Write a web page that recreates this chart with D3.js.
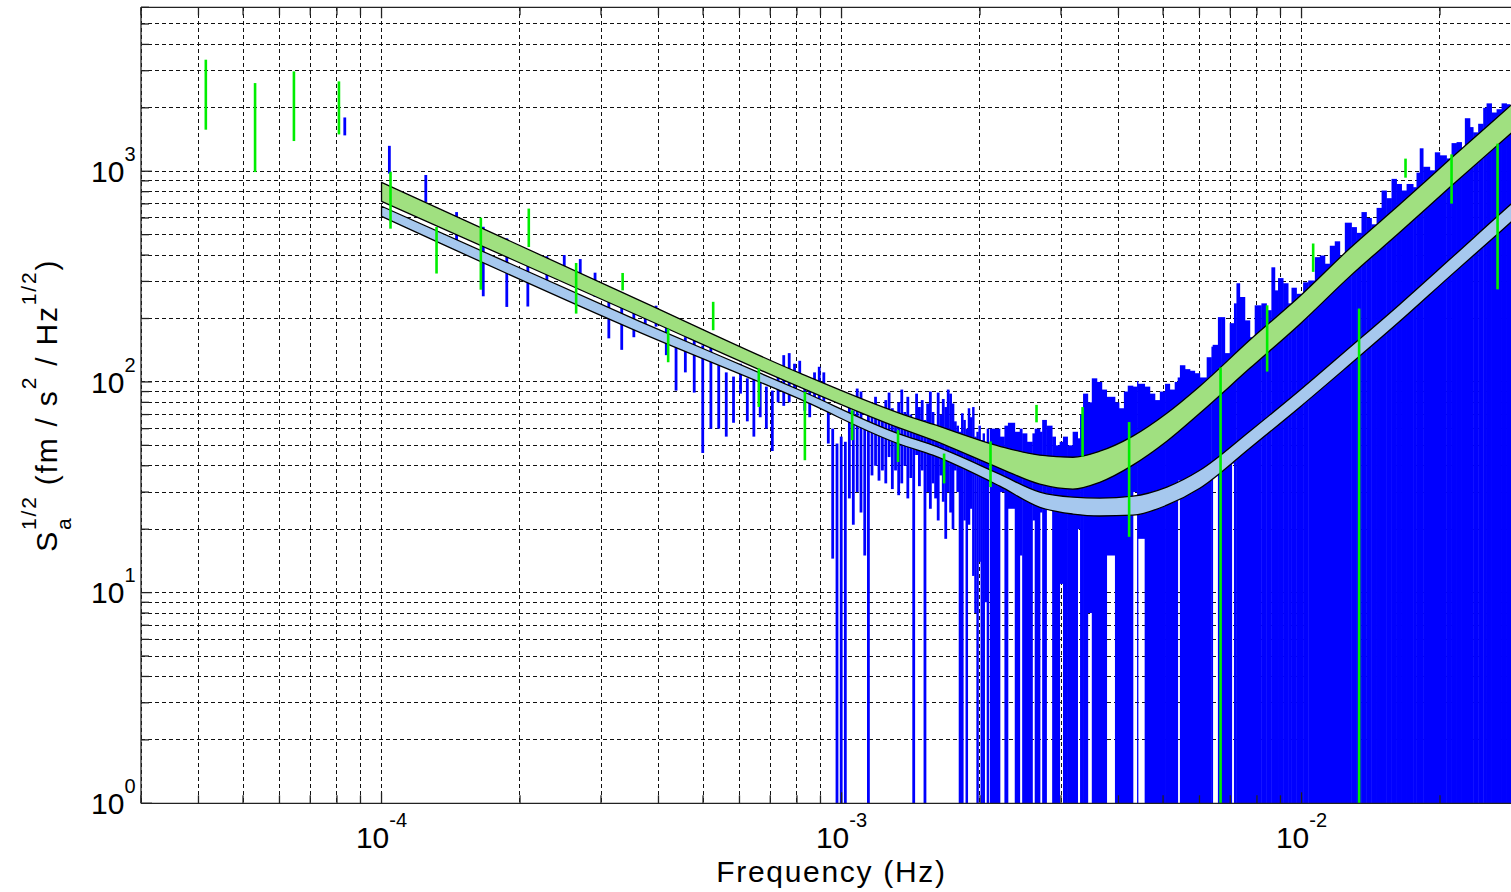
<!DOCTYPE html>
<html><head><meta charset="utf-8">
<script src="https://cdn.jsdelivr.net/npm/d3@7"></script>
<style>body{margin:0;background:#fff}svg{display:block}</style>
</head><body>
<svg id="chart" width="1511" height="892"></svg>
<script>
// ---------------- DATA ----------------
// Axis ticks
const xTickVals = [1e-4, 1e-3, 1e-2];
const xTickExp = ["-4", "-3", "-2"];
const yTickVals = [1, 10, 100, 1000];
const yTickExp = ["0", "1", "2", "3"];

// Blue spectrum, individual FFT bins (bin k at k * binStep Hz), upper / lower ends of each bar
const binStep = 2.08e-5;
const firstBin = 4;
const blueHi = [1800,1320,960,640,545,480,380,395,400,383,330,250,266,236,219,230,183,152,163,157,
  149,147,120,111,106,122,104,110,102,95,91,106,134,137,122,126,102,95,111,118,111,76,60,
  51,55,52,80,73,93,90,61,78,70,85,70,66,82,89,75,68,80,92,72,85,70,64,88,76,82,66,79,90,72,
  60,89,70,83,76,92,88,79,65,62,58,71,66,60,75,68,76,55,58,62,53,57,48,60];
const blueLo = [1480,975,715,470,255,227,228,298,355,273,253,161,142,163,175,183,134,91,111,89,
  46,60,60,55,64,88,65,55,68,60,47,80,77,80,88,95,73,68,80,83,76,51,14.5,
  0.5,0.5,0.5,28,21,30,24,15,0.5,36,40,34,38,33,44,31,38,29,33,40,28,35,0.5,45,32,38,0.5,30,25,
  33,28,22,36,27,18,30,24,20,38,30,0.5,0.5,22,0.5,21,25,12,8,0.5,14,0.5,0.5,9,0.5];

// Blue spectrum, dense part: spans starting at denseF[i] and ending at denseF[i+1]
const denseF = [2.10e-3,2.21e-3,2.26e-3,2.30e-3,2.38e-3,2.44e-3,2.47e-3,2.53e-3,2.60e-3,2.63e-3,
  2.70e-3,2.73e-3,2.79e-3,2.87e-3,2.92e-3,2.98e-3,3.03e-3,3.10e-3,3.18e-3,3.26e-3,
  3.30e-3,3.35e-3,3.43e-3,3.50e-3,3.59e-3,3.68e-3,3.77e-3,3.93e-3,4.01e-3,4.11e-3,
  4.19e-3,4.30e-3,4.39e-3,4.41e-3,4.56e-3,4.68e-3,4.80e-3,4.92e-3,5.05e-3,5.17e-3,
  5.30e-3,5.38e-3,5.44e-3,5.58e-3,5.72e-3,5.86e-3,6.01e-3,6.22e-3,6.37e-3,6.41e-3,
  6.58e-3,6.70e-3,6.81e-3,6.98e-3,7.05e-3,7.13e-3,7.22e-3,7.34e-3,7.53e-3,7.72e-3,
  7.91e-3,8.18e-3,8.39e-3,8.60e-3,8.75e-3,8.89e-3,9.12e-3,9.35e-3,9.51e-3,9.75e-3,
  1.008e-2,1.034e-2,1.069e-2,1.096e-2,1.124e-2,1.152e-2,1.181e-2,1.211e-2,1.242e-2,1.284e-2,
  1.317e-2,1.350e-2,1.384e-2,1.419e-2,1.456e-2,1.493e-2,1.530e-2,1.569e-2,1.609e-2,1.650e-2,
  1.692e-2,1.748e-2,1.778e-2,1.807e-2,1.838e-2,1.900e-2,1.949e-2,1.998e-2,2.066e-2,2.119e-2,
  2.173e-2,2.228e-2,2.265e-2,2.323e-2,2.361e-2,2.421e-2,2.483e-2,2.525e-2,2.589e-2,2.655e-2,
  2.722e-2,2.791e-2,2.838e-2,3.0e-2];
const denseHi = [60,55,62,64,58,60,57,52,57,60,
  58,66,62,55,50,52,55,50,58,54,
  70,88,80,104,100,92,85,80,75,90,
  96,95,101,98,95,88,82,90,98,92,
  100,105,120,115,113,110,105,131,147,150,
  203,203,137,190,190,236,294,253,196,163,
  231,236,219,350,272,311,294,236,280,262,
  297,303,391,398,364,443,465,391,570,543,
  510,640,600,560,670,810,745,920,870,810,
  870,840,985,1285,1050,1010,1230,1190,1150,1360,
  1375,1290,1785,1620,1530,1680,2000,2100,1900,1970,
  2100,2080,1980];
const denseLo = [0.5,30,0.5,25,0.5,15,0.5,0.5,22,0.5,
  24,0.5,28,0.5,0.5,11,0.5,0.5,0.5,20,
  0.5,0.5,8,0.5,0.5,0.5,15,0.5,0.5,0.5,
  0.5,30,0.5,18,0.5,0.5,0.5,0.5,0.5,0.5,
  0.5,34,0.5,0.5,0.5,0.5,0.5,0.5,0.5,42,
  0.5,0.5,0.5,0.5,41,0.5,0.5,0.5,0.5,0.5,
  0.5,0.5,0.5,0.5,0.5,0.5,0.5,0.5,0.5,0.5,
  0.5,0.5,0.5,0.5,0.5,0.5,0.5,0.5,0.5,0.5,
  0.5,0.5,0.5,0.5,0.5,0.5,0.5,0.5,0.5,0.5,
  0.5,0.5,0.5,0.5,0.5,0.5,0.5,0.5,0.5,0.5,
  0.5,0.5,0.5,0.5,0.5,0.5,0.5,0.5,0.5,0.5,
  0.5,0.5,0.5];

// Green (log-binned) estimates: frequency, upper, lower
const greenF  = [4.15e-5,5.31e-5,6.45e-5,8.08e-5,1.046e-4,1.317e-4,1.644e-4,2.09e-4,2.649e-4,3.343e-4,
  4.199e-4,5.26e-4,6.61e-4,8.324e-4,1.0545e-3,1.327e-3,1.671e-3,2.108e-3,2.654e-3,3.342e-3,
  4.219e-3,6.668e-3,8.419e-3,1.06e-2,1.334e-2,1.683e-2,2.119e-2,2.668e-2];
const greenHi = [3384,2621,2979,2670,995,544,602,665,367,329,
  179,240,116,89.7,73.4,59.0,45.7,52.2,77.8,76.0,
  64.5,117,231,454,223,1148,1203,1352];
const greenLo = [1575,991,1391,1496,534,327,274,437,211,272,
  124,176,76.1,42.5,52.9,41.7,33.0,31.7,64.3,44.2,
  18.4,0.5,112,333,0.5,932,702,275];

// Model bands
const bandF = [1e-4,3.64e-4,8.12e-4,1.339e-3,1.579e-3,2.208e-3,2.698e-3,3.183e-3,3.643e-3,4.298e-3,
  5.096e-3,6.01e-3,7.719e-3,9.915e-3,1.274e-2,1.636e-2,2.101e-2,2.851e-2,3.0e-2];
const greenTop = [886,244,110,71.0,63.0,49.5,44.9,43.9,46.9,55.3,71.0,95.4,158,255,431,697,1139,2054,2266];
const greenBot = [720,205,94.4,60.3,52.9,38.9,32.7,31.0,33.4,40.3,52.3,71.0,116,188,317,513,839,1512,1669];
const lbTop    = [682,194,91.3,56.5,50.1,36.5,30.0,28.4,28.1,28.7,31.7,38.1,58.4,91.3,146,234,382,697,769];
const lbBot    = [611,172,82.8,50.6,44.9,32.0,25.4,23.6,23.1,23.3,26.0,31.3,48.5,75.9,121,194,317,572,631];

// ---------------- DRAWING ----------------
const W = 1511, H = 892;
const P = {left: 141, right: 1521, top: 7.3, bottom: 803.3};
const FONT = "'Liberation Sans', Arial, Helvetica, sans-serif";
const svg = d3.select('#chart');
const x = d3.scaleLog().domain([3e-5, 3e-2]).range([P.left, P.right]);
const y = d3.scaleLog().domain([1, 6000]).range([P.bottom, P.top]);

svg.append('rect').attr('width', W).attr('height', H).attr('fill', '#fff');
svg.append('defs').append('clipPath').attr('id', 'clip').append('rect')
  .attr('x', P.left).attr('y', P.top).attr('width', P.right - P.left).attr('height', P.bottom - P.top);

// grid
const grid = svg.append('g').attr('clip-path', 'url(#clip)')
  .attr('stroke', '#111').attr('stroke-width', 1).attr('stroke-dasharray', '4,3')
  .attr('shape-rendering', 'crispEdges');
x.ticks().forEach(v => grid.append('line').attr('x1', x(v)).attr('x2', x(v)).attr('y1', P.top).attr('y2', P.bottom));
y.ticks().forEach(v => grid.append('line').attr('x1', P.left).attr('x2', P.right).attr('y1', y(v)).attr('y2', y(v)));

const data = svg.append('g').attr('clip-path', 'url(#clip)');

// blue individual bins
const blueG = data.append('g').attr('fill', '#0000ff');
blueHi.forEach((hi, i) => {
  const f = (firstBin + i) * binStep;
  const spacing = x(f + binStep / 2) - x(f - binStep / 2);
  const w = Math.min(2.8, spacing + 0.3);
  const y1 = y(hi), y2 = y(blueLo[i]);
  blueG.append('rect').attr('x', x(f) - w / 2).attr('width', w)
    .attr('y', y1).attr('height', Math.max(0, y2 - y1));
});
// blue dense spans
denseHi.forEach((hi, i) => {
  const x1 = x(denseF[i]), x2 = x(denseF[i + 1]);
  const y1 = y(hi), y2 = y(denseLo[i]);
  blueG.append('rect').attr('x', x1).attr('width', x2 - x1 + 0.4)
    .attr('y', y1).attr('height', Math.max(0, y2 - y1));
});

// bands
function band(top, bot, fill) {
  const pts = bandF.map((f, i) => ({f, t: top[i], b: bot[i]}));
  const area = d3.area().x(d => x(d.f)).y0(d => y(d.b)).y1(d => y(d.t)).curve(d3.curveMonotoneX);
  data.append('path').attr('d', area(pts)).attr('fill', fill)
    .attr('stroke', '#000').attr('stroke-width', 1.3).attr('stroke-linejoin', 'round');
}
band(lbTop, lbBot, '#a6c8ee');
band(greenTop, greenBot, '#a0e080');

// green bars
const greenG = data.append('g').attr('fill', '#00ee00');
greenF.forEach((f, i) => {
  const y1 = y(greenHi[i]), y2 = y(greenLo[i]);
  greenG.append('rect').attr('x', x(f) - 1.3).attr('width', 2.6).attr('y', y1).attr('height', Math.max(0, y2 - y1));
});

// axes
const ax = svg.append('g').attr('stroke', '#222').attr('stroke-width', 1.3).attr('fill', 'none');
ax.append('line').attr('x1', P.left).attr('x2', P.left).attr('y1', P.top).attr('y2', P.bottom);
ax.append('line').attr('x1', P.left).attr('x2', P.right).attr('y1', P.bottom).attr('y2', P.bottom);
ax.append('line').attr('x1', P.left).attr('x2', P.right).attr('y1', P.top).attr('y2', P.top);
const isMajor = v => Math.abs(Math.log10(v) - Math.round(Math.log10(v))) < 1e-6;
x.ticks().forEach(v => {
  const L = isMajor(v) ? 11 : 8;
  ax.append('line').attr('x1', x(v)).attr('x2', x(v)).attr('y1', P.bottom).attr('y2', P.bottom - L);
  ax.append('line').attr('x1', x(v)).attr('x2', x(v)).attr('y1', P.top).attr('y2', P.top + L);
});
y.ticks().forEach(v => {
  const L = isMajor(v) ? 11 : 8;
  ax.append('line').attr('x1', P.left).attr('x2', P.left + L).attr('y1', y(v)).attr('y2', y(v));
});

// tick labels
const lab = svg.append('g').attr('font-family', FONT).attr('fill', '#000');
xTickVals.forEach((v, i) => {
  const t = lab.append('text').attr('x', x(v)).attr('y', 848.3).attr('text-anchor', 'middle');
  t.append('tspan').attr('font-size', 30).text('10');
  t.append('tspan').attr('font-size', 20).attr('dy', -21).text(xTickExp[i]);
});
yTickVals.forEach((v, i) => {
  const t = lab.append('text').attr('x', 135.5).attr('y', y(v) + 10.7).attr('text-anchor', 'end');
  t.append('tspan').attr('font-size', 30).text('10');
  t.append('tspan').attr('font-size', 20).attr('dy', -21).text(yTickExp[i]);
});

// axis titles
lab.append('text').attr('x', 831.5).attr('y', 881.7).attr('text-anchor', 'middle')
  .attr('font-size', 30).attr('letter-spacing', 1.7).text('Frequency (Hz)');

const LS = 1.8;
const yt = lab.append('g').attr('transform', 'translate(56.5,405.3) rotate(-90)')
  .append('text').attr('x', 0).attr('y', 0).attr('text-anchor', 'middle').attr('letter-spacing', LS);
yt.append('tspan').attr('font-size', 30).text('S');
yt.append('tspan').attr('font-size', 21).attr('dy', 14).text('a');
yt.append('tspan').attr('font-size', 21).attr('dx', -(0.556 * 21 + LS)).attr('dy', -35).text('1/2');
yt.append('tspan').attr('font-size', 30).attr('dy', 21).text('\u00a0(fm / s');
yt.append('tspan').attr('font-size', 21).attr('dy', -21).text('2');
yt.append('tspan').attr('font-size', 30).attr('dy', 21).text('\u00a0/ Hz');
yt.append('tspan').attr('font-size', 21).attr('dy', -21).text('1/2');
yt.append('tspan').attr('font-size', 30).attr('dy', 21).text(')');
</script>
</body></html>
